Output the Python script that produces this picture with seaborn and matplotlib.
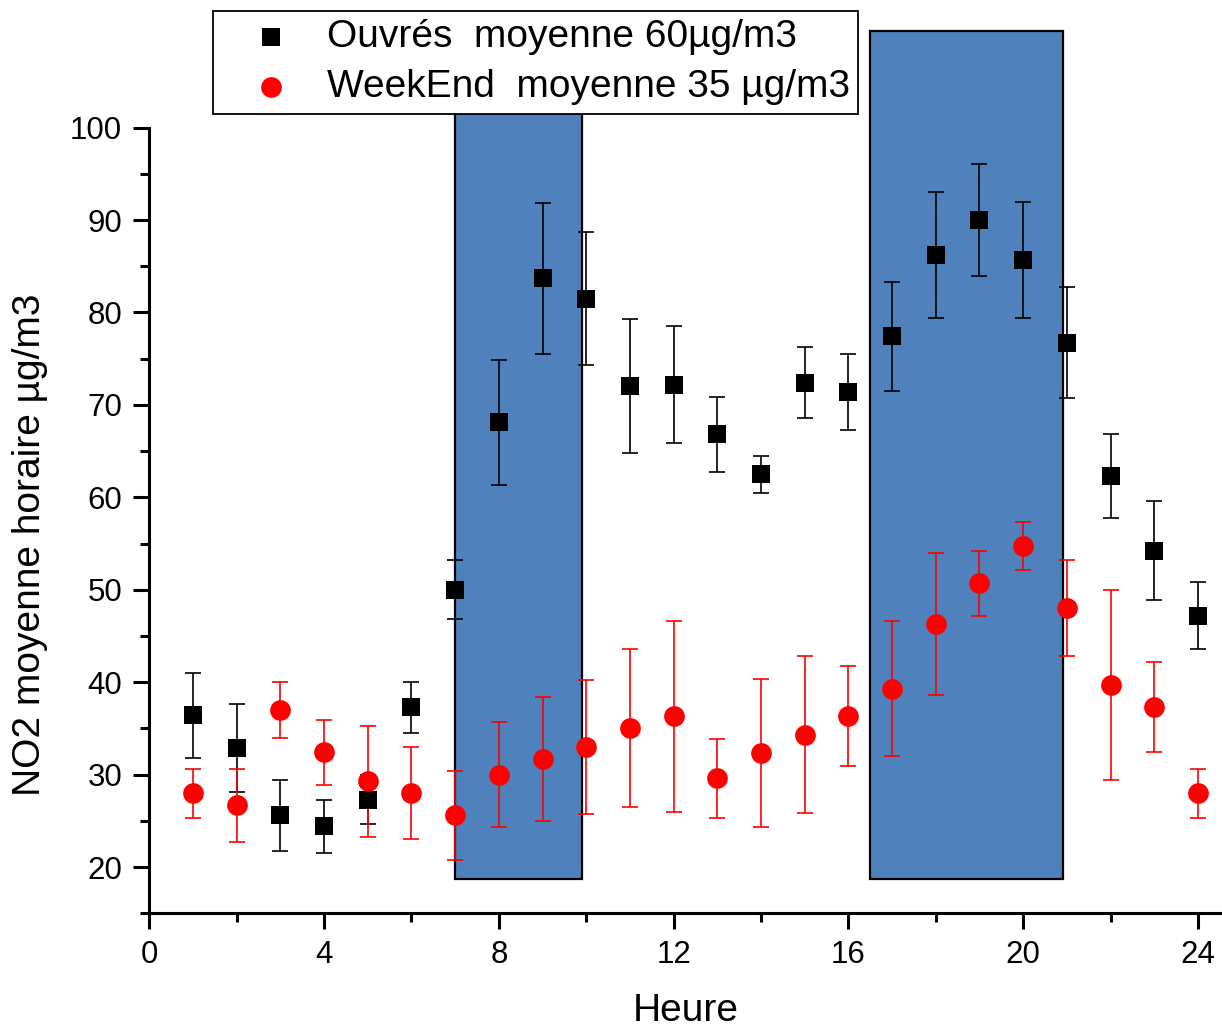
import matplotlib
matplotlib.use("Agg")
import matplotlib.pyplot as plt
import pandas as pd
import seaborn as sns
from matplotlib.ticker import MultipleLocator

# Hourly NO2 means (µg/m3) with their spread, working days vs weekend
hours = list(range(1, 25))
ouvres_mean = [36.4, 32.9, 25.6, 24.4, 27.3, 37.3, 50.0, 68.1, 83.7, 81.5, 72.0, 72.2,
               66.8, 62.5, 72.4, 71.4, 77.4, 86.2, 90.0, 85.7, 76.7, 62.3, 54.2, 47.2]
ouvres_err = [4.6, 4.75, 3.85, 2.9, 2.65, 2.75, 3.2, 6.8, 8.15, 7.2, 7.25, 6.3,
              4.1, 2.0, 3.85, 4.1, 5.85, 6.8, 6.1, 6.3, 6.0, 4.55, 5.35, 3.6]
weekend_mean = [28.0, 26.7, 37.0, 32.4, 29.3, 28.0, 25.6, 30.0, 31.7, 33.0, 35.0, 36.3,
                29.6, 32.3, 34.3, 36.3, 39.3, 46.3, 50.7, 54.7, 48.0, 39.7, 37.3, 28.0]
weekend_err = [2.65, 3.95, 3.0, 3.5, 6.0, 4.95, 4.8, 5.7, 6.7, 7.25, 8.55, 10.35,
               4.3, 8.0, 8.5, 5.4, 7.3, 7.7, 3.5, 2.6, 5.2, 10.3, 4.85, 2.65]

# Rush-hour periods
rush_start = [7.0, 16.5]
rush_end = [9.9, 20.9]
rush_low = 18.75
rush_high = 110.5

labels = ["Ouvrés  moyenne 60µg/m3", "WeekEnd  moyenne 35 µg/m3"]

df = pd.DataFrame({
    "Heure": hours * 2,
    "NO2": ouvres_mean + weekend_mean,
    "err": ouvres_err + weekend_err,
    "jour": [labels[0]] * 24 + [labels[1]] * 24,
})

sns.set_style("ticks")
plt.rcParams["font.family"] = ["Liberation Sans", "DejaVu Sans"]
plt.rcParams.update({
    "text.color": "black", "axes.labelcolor": "black",
    "xtick.color": "black", "ytick.color": "black", "axes.edgecolor": "black",
})

W, H = 1222, 1031
fig = plt.figure(figsize=(W / 100, H / 100), dpi=100)
ax = fig.add_axes([149.3 / W, (H - 913.3) / H, (W - 149.3) / W, 913.3 / H])

# shaded rush-hour blocks
ax.bar(rush_start, rush_high - rush_low,
       width=[e - s for s, e in zip(rush_start, rush_end)],
       bottom=rush_low, align="edge", color="#4F81BD",
       edgecolor="black", linewidth=1.6, zorder=1)

styles = {labels[0]: ("s", "black", 159), labels[1]: ("o", "red", 222)}
for lab, (mk, col, size) in styles.items():
    sub = df[df["jour"] == lab]
    ax.errorbar(sub["Heure"], sub["NO2"], yerr=sub["err"], fmt="none",
                ecolor=col, elinewidth=1.2, capsize=6, capthick=1.2, zorder=2)
    sns.scatterplot(data=sub, x="Heure", y="NO2", marker=mk, color=col,
                    s=size, linewidth=0, label=lab, ax=ax, zorder=3)

ax.set_xlim(0, 24.55)
ax.set_ylim(15, 113.8)
ax.xaxis.set_major_locator(MultipleLocator(4))
ax.xaxis.set_minor_locator(MultipleLocator(2))
ax.set_yticks(range(20, 101, 10))
ax.set_yticks(range(15, 100, 10), minor=True)

for s in ["top", "right"]:
    ax.spines[s].set_visible(False)
ax.spines["left"].set_bounds(15, 100)
for s in ["left", "bottom"]:
    ax.spines[s].set_linewidth(2.2)

ax.tick_params(which="major", direction="out", length=11.5, width=2.2,
               labelsize=22.5, pad=8, color="black", labelcolor="black")
ax.tick_params(which="minor", direction="out", length=6.5, width=2.2, color="black")

ax.set_xlabel("Heure", fontsize=28, labelpad=16)
ax.set_ylabel("NO2 moyenne horaire µg/m3", fontsize=28)
ax.yaxis.set_label_coords(30 / W, 1 - 545 / H, transform=fig.transFigure)
ax.yaxis.label.set_va("center")

leg = ax.legend(loc="upper left", bbox_to_anchor=(213 / W, 1 - 10.7 / H),
                bbox_transform=fig.transFigure, fontsize=28, frameon=True,
                fancybox=False, edgecolor="black", framealpha=1,
                borderpad=0.22, labelspacing=0.36, handlelength=2.55,
                handletextpad=0.15, borderaxespad=0)
leg.get_frame().set_linewidth(1.3)
leg.set_zorder(5)

fig.savefig("out.png", dpi=100)
